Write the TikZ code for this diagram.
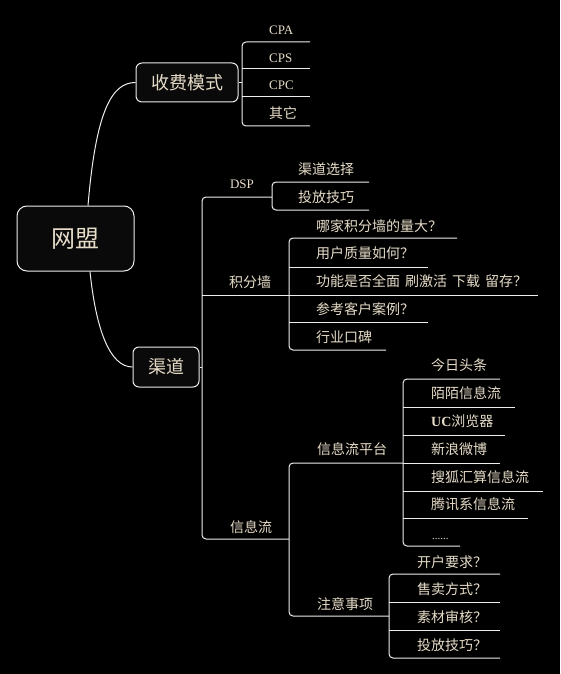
\documentclass[tikz,border=0pt]{standalone}
\usepackage{fontspec}
\newfontfamily\cjk{Noto Sans CJK SC}
\newfontfamily\lat{Liberation Serif}
\definecolor{txt}{HTML}{E6DCC8}
\definecolor{wirec}{HTML}{EDEDED}
\definecolor{boxfill}{HTML}{0A0A0A}
\begin{document}
\begin{tikzpicture}[x=1pt,y=-1pt,
 wire/.style={draw=wirec,line width=1pt},
 br/.style={wire,rounded corners=4pt},
 lbl/.style={text=txt,inner sep=0pt,anchor=west,font=\cjk\fontsize{14}{15}\selectfont,text height=12.3pt,text depth=1.7pt},
 latl/.style={lbl,font=\lat\fontsize{13}{14}\selectfont},
 topic/.style={draw=wirec,line width=1pt,fill=boxfill,text=txt,inner sep=0pt,font=\cjk\fontsize{18}{20}\selectfont}
]
\fill[black] (0,0) rectangle (560,674);
\useasboundingbox (0,0) rectangle (560,674);

% main topics
\node[topic,minimum width=117pt,minimum height=65pt,rounded corners=10pt,font=\cjk\fontsize{24}{26}\selectfont] (root) at (75.5,238.5) {网盟};
\node[topic,minimum width=102pt,minimum height=39pt,rounded corners=6pt] (fee) at (187,82.5) {收费模式};
\node[topic,minimum width=66pt,minimum height=40pt,rounded corners=6pt] (chan) at (166,367) {渠道};

\draw[wire] ([xshift=12.5pt]root.north) .. controls (96,110) and (112,82.5) .. (fee.west);
\draw[wire] ([xshift=14.5pt]root.south) .. controls (96,330) and (110,367) .. (chan.west);

% fee children
\coordinate (feeBr) at (242,82.5);
\draw[wire] (fee.east) -- (feeBr);
\node[latl] (cpa) at (269,29) {CPA};
\node[latl] (cps) at (269,57) {CPS};
\node[latl] (cpc) at (269,84) {CPC};
\node[lbl] (qt) at (269,113) {其它};
\coordinate (cpaU) at (310,42);
\coordinate (cpsU) at (310,69);
\coordinate (cpcU) at (310,97);
\coordinate (qtU) at (310,126);
\draw[br] (cpaU) -- (feeBr|-cpaU) -- (feeBr|-qtU) -- (qtU);
\draw[wire] (feeBr|-cpsU) -- (cpsU);
\draw[wire] (feeBr|-cpcU) -- (cpcU);

% channel children
\coordinate (chBr) at (202,367);
\draw[wire] (chan.east) -- (chBr);
\coordinate (dspU) at (272,197);
\coordinate (jfU) at (289,295);
\coordinate (xxU) at (289,539);
\draw[br] (dspU) -- (chBr|-dspU) -- (chBr|-xxU) -- (xxU);
\draw[wire] (chBr|-jfU) -- (jfU);
\node[latl,anchor=center] (dsp) at (242,183) {DSP};
\node[lbl] (jf) at (229,282) {积分墙};
\node[lbl] (xx) at (230,527) {信息流};

% DSP children
\coordinate (qdU) at (369,182);
\coordinate (tfU) at (369,210);
\draw[br] (qdU) -- (dspU|-qdU) -- (dspU|-tfU) -- (tfU);
\node[lbl] (qd) at (298,169) {渠道选择};
\node[lbl] (tf) at (298,197) {投放技巧};

% jifenqiang children
\coordinate (j1U) at (457,238);
\coordinate (j2U) at (428,267);
\coordinate (j3U) at (538,295);
\coordinate (j4U) at (428,322);
\coordinate (j5U) at (386,350);
\draw[br] (j1U) -- (jfU|-j1U) -- (jfU|-j5U) -- (j5U);
\draw[wire] (jfU|-j2U) -- (j2U);
\draw[wire] (jfU|-j3U) -- (j3U);
\draw[wire] (jfU|-j4U) -- (j4U);
\node[lbl] (j1) at (316,226) {哪家积分墙的量大？};
\node[lbl] (j2) at (316,253) {用户质量如何？};
\node[lbl] (j3) at (316,281) {功能是否全面\hspace{5pt}刷激活\hspace{5pt}下载\hspace{5pt}留存？};
\node[lbl] (j4) at (316,309) {参考客户案例？};
\node[lbl] (j5) at (316,337) {行业口碑};

% xinxiliu children
\coordinate (ptU) at (403,463);
\coordinate (zyU) at (389,616);
\draw[br] (ptU) -- (xxU|-ptU) -- (xxU|-zyU) -- (zyU);
\node[lbl] (pt) at (317,449) {信息流平台};
\node[lbl] (zy) at (317,604) {注意事项};

% platform children
\coordinate (p1U) at (500,379);
\coordinate (p2U) at (515,407);
\coordinate (p3U) at (505,435);
\coordinate (p4U) at (500,463);
\coordinate (p5U) at (543,491);
\coordinate (p6U) at (528,518);
\coordinate (p7U) at (460,546);
\draw[br] (p1U) -- (ptU|-p1U) -- (ptU|-p7U) -- (p7U);
\draw[wire] (ptU|-p2U) -- (p2U);
\draw[wire] (ptU|-p3U) -- (p3U);
\draw[wire] (ptU|-p4U) -- (p4U);
\draw[wire] (ptU|-p5U) -- (p5U);
\draw[wire] (ptU|-p6U) -- (p6U);
\node[lbl] (p1) at (431,365) {今日头条};
\node[lbl] (p2) at (431,393) {陌陌信息流};
\node[lbl] (p3) at (431,421) {{\lat\bfseries UC}浏览器};
\node[lbl] (p4) at (431,449) {新浪微博};
\node[lbl] (p5) at (431,477) {搜狐汇算信息流};
\node[lbl] (p6) at (431,504) {腾讯系信息流};
\node[lbl,anchor=base west,font=\lat\fontsize{11}{12}\selectfont] (p7) at (432,539) {......};

% notes children
\coordinate (z1U) at (500,574);
\coordinate (z2U) at (500,602);
\coordinate (z3U) at (500,630);
\coordinate (z4U) at (500,658);
\draw[br] (z1U) -- (zyU|-z1U) -- (zyU|-z4U) -- (z4U);
\draw[wire] (zyU|-z2U) -- (z2U);
\draw[wire] (zyU|-z3U) -- (z3U);
\node[lbl] (z1) at (417,562) {开户要求？};
\node[lbl] (z2) at (417,589) {售卖方式？};
\node[lbl] (z3) at (417,617) {素材审核？};
\node[lbl] (z4) at (417,645) {投放技巧？};
\end{tikzpicture}
\end{document}
